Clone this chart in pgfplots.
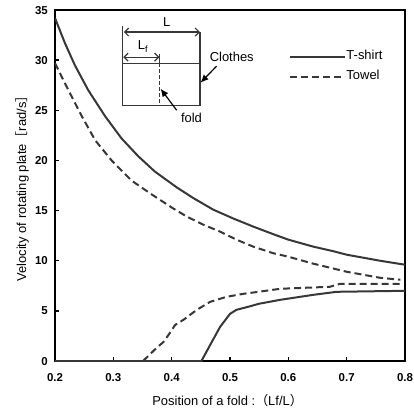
\documentclass[border=0pt]{standalone}
\usepackage{fontspec}
\setmainfont{Liberation Sans}
\newfontfamily\cjk{Noto Sans CJK JP}
\usepackage{pgfplots}
\pgfplotsset{compat=1.18}
\usetikzlibrary{arrows.meta}
\definecolor{cv}{RGB}{55,55,55}

\begin{document}
\begin{tikzpicture}
\begin{axis}[
  at={(0,0)}, anchor=south west, scale only axis,
  width=350bp, height=351bp,
  xmin=0.2, xmax=0.8, ymin=0, ymax=35,
  xtick={0.2,0.3,0.4,0.5,0.6,0.7,0.8},
  xticklabels={0.2,0.3,0.4,0.5,0.6,0.7,0.8},
  ytick={0,5,10,15,20,25,30,35},
  yticklabels={0,5,10,15,20,25,30,35},
  ticklabel style={font=\fontsize{11.5}{13}\selectfont\bfseries, inner sep=0pt},
  xticklabel style={anchor=base, yshift=-20bp},
  yticklabel style={anchor=base east, xshift=-7bp, yshift=-4bp},
  tick align=inside, xtick pos=bottom, ytick pos=left,
  major tick length=4bp,
  tick style={line width=1.4bp, black},
  axis line style={line width=2.4bp, black},
  xlabel={Position of a fold :{\cjk （}Lf/L{\cjk ）}},
  ylabel={Velocity of rotating plate{\cjk ［}rad/s{\cjk ］}},
  every axis x label/.style={at={(axis description cs:0.493,-0.114)}, anchor=center, font=\fontsize{13}{15}\selectfont},
  every axis y label/.style={at={(axis description cs:-0.094,0.5)}, rotate=90, anchor=center, font=\fontsize{13}{15}\selectfont},
  legend style={draw=none, fill=none, at={(0.6694,0.8385)}, anchor=west,
    inner sep=0pt, row sep=8bp,
    nodes={inner sep=0pt, font=\fontsize{13}{15}\selectfont, text height=9bp, text depth=3bp}},
  legend cell align=left,
  legend image code/.code={\draw[#1] (0bp,0bp) -- (55bp,0bp);},
]
\addplot[cv, line width=2bp] coordinates {
(0.2,34.2)(0.217,31.7)(0.234,29.5)(0.257,27.0)(0.286,24.4)(0.314,22.2)(0.343,20.4)
(0.371,18.9)(0.409,17.3)(0.437,16.25)(0.471,15.1)(0.506,14.2)(0.54,13.4)
(0.574,12.65)(0.6,12.1)(0.643,11.4)(0.677,10.95)(0.7,10.6)(0.757,10.0)(0.8,9.6)};
\addlegendentry{T-shirt}
\addplot[cv, line width=2bp, dash pattern=on 7bp off 4bp] coordinates {
(0.2,29.7)(0.223,27.0)(0.246,24.4)(0.269,22.0)(0.297,20.0)(0.331,18.0)(0.366,16.6)
(0.403,15.2)(0.426,14.4)(0.454,13.6)(0.483,12.9)(0.511,12.1)(0.54,11.4)
(0.574,10.75)(0.6,10.4)(0.643,9.7)(0.7,8.9)(0.757,8.3)(0.792,8.1)};
\addlegendentry{Towel}
\addplot[cv, line width=2bp, forget plot] coordinates {
(0.2,0)(0.451,0)(0.466,1.6)(0.483,3.4)(0.5,4.7)(0.511,5.1)(0.534,5.45)(0.549,5.7)
(0.586,6.1)(0.643,6.6)(0.683,6.9)(0.8,7.0)};
\addplot[cv, line width=2bp, dash pattern=on 7bp off 4bp, forget plot] coordinates {
(0.2,0)(0.351,0)(0.374,1.3)(0.386,1.9)(0.397,2.8)(0.406,3.6)(0.42,4.1)(0.443,5.1)
(0.466,5.9)(0.494,6.4)(0.523,6.7)(0.549,6.9)(0.586,7.2)(0.671,7.4)(0.689,7.7)(0.792,7.7)};

% inset diagram
\draw[cv, line width=1.2bp] (axis cs:0.316,33.4) -- (axis cs:0.316,25.5) -- (axis cs:0.4486,25.5) -- (axis cs:0.4486,32.8);
\draw[cv, line width=1.2bp] (axis cs:0.316,29.7) -- (axis cs:0.4486,29.7);
\draw[cv, line width=1.2bp, {Straight Barb[length=4bp,width=8bp]}-{Straight Barb[length=4bp,width=8bp]}] (axis cs:0.318,32.8) -- (axis cs:0.4486,32.8);
\draw[cv, line width=1.2bp, {Straight Barb[length=4bp,width=8bp]}-{Straight Barb[length=4bp,width=8bp]}] (axis cs:0.317,30.3) -- (axis cs:0.379,30.3);
\draw[cv, line width=1.8bp] (axis cs:0.3792,30.6) -- (axis cs:0.3792,29.7);
\draw[cv, line width=1.2bp, dash pattern=on 4bp off 2bp] (axis cs:0.3788,29.7) -- (axis cs:0.3788,25.5);
\draw[black, line width=1.2bp, -{Latex[length=8bp,width=7bp]}] (axis cs:0.4086,25.0) -- (axis cs:0.381,27.15);
\draw[black, line width=1.2bp, -{Latex[length=8bp,width=7bp]}] (axis cs:0.477,29.4) -- (axis cs:0.4495,27.75);
\node[font=\fontsize{13}{15}\selectfont, inner sep=0pt] at (axis cs:0.3914,33.75) {L};
\node[font=\fontsize{13}{15}\selectfont, inner sep=0pt] at (axis cs:0.351,31.35) {L\textsubscript{f}};
\node[font=\fontsize{13}{15}\selectfont, inner sep=0pt] at (axis cs:0.434,24.2) {fold};
\node[font=\fontsize{13}{15}\selectfont, inner sep=0pt] at (axis cs:0.503,30.35) {Clothes};
\end{axis}
\pgfresetboundingbox
\useasboundingbox (-55bp,-51bp) rectangle (359bp,361bp);
\end{tikzpicture}
\end{document}
